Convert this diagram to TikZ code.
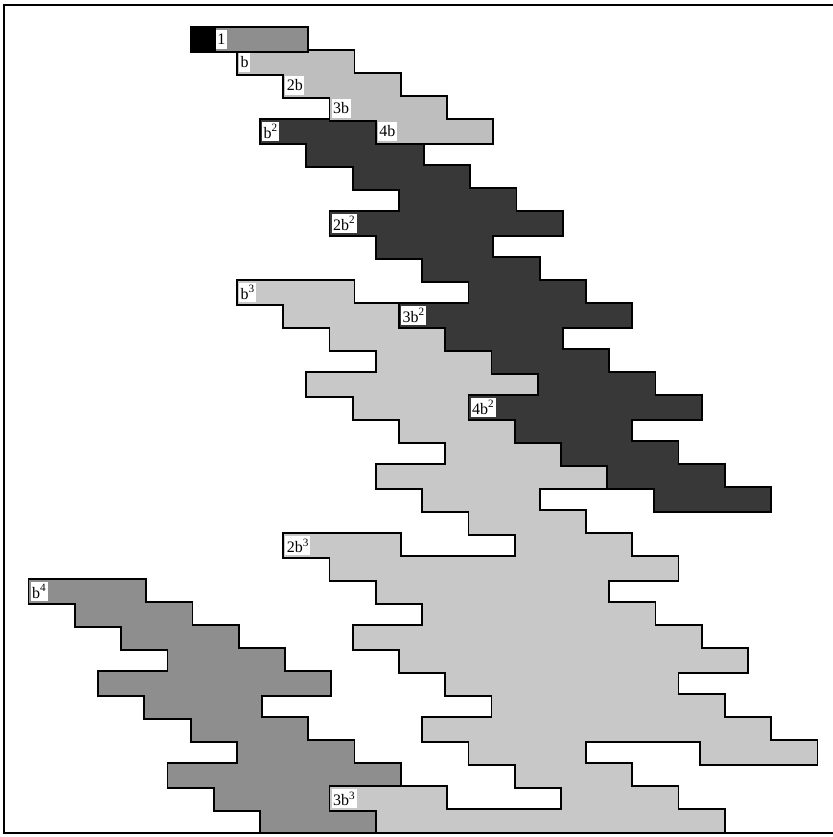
\documentclass[tikz,border=0pt]{standalone}
\usepackage{fontspec}
\setmainfont{Liberation Serif}
\definecolor{cdark}{HTML}{383838}
\definecolor{clight}{HTML}{C8C8C8}
\definecolor{clightb}{HTML}{BEBEBE}
\definecolor{cmed}{HTML}{8E8E8E}
\def\gx{191.5}
\def\gw{23.15}
\def\gy{28}
\def\gh{23}
\newcommand\cellat[3]{\path[#1] ({\gx+\gw*(#2)},{\gy+\gh*(#3)}) rectangle ++(\gw,\gh);}
\newcommand\levZero[1]{\foreach \ia in {1,...,4}{\cellat{#1}{\ia}{0}}}
\newcommand\levOne[1]{\foreach \ia in {1,...,4}{\foreach \ib in {0,...,4}{\cellat{#1}{2*\ia+\ib}{\ia}}}}
\newcommand\levTwo[1]{\foreach \ia in {1,...,4}{\foreach \ib in {0,...,4}{\foreach \ic in {0,...,4}{\cellat{#1}{3*\ia+2*\ib+\ic}{4*\ia+\ib}}}}}
\newcommand\levThree[1]{\foreach \ie in {1,...,3}{\foreach \ia in {0,...,4}{\foreach \ib in {0,...,4}{\foreach \ic in {0,...,4}{\cellat{#1}{2*\ie+3*\ia+2*\ib+\ic}{11*\ie+4*\ia+\ib}}}}}}
\newcommand\levFour[1]{\foreach \ia in {0,...,4}{\foreach \ib in {0,...,4}{\foreach \ic in {0,...,4}{\cellat{#1}{-7+3*\ia+2*\ib+\ic}{24+4*\ia+\ib}}}}}
\begin{document}
\begin{tikzpicture}[x=1pt,y=-1pt,
  lbl/.style={fill=white, inner xsep=1.5pt, inner ysep=0pt, minimum height=19pt, anchor=west, font=\fontsize{16}{16}\selectfont},
  edge/.style={draw=black, line width=3.6pt},
  fmed/.style={fill=cmed},
  flight/.style={fill=clight},
  flightb/.style={fill=clightb},
  fdark/.style={fill=cdark},
  fblack/.style={fill=black}]
\useasboundingbox (0,0) rectangle (832,837);
\begin{scope}
\clip (4,5) rectangle (832,833);
\levFour{edge}
\levFour{fmed}
\levThree{edge}
\levThree{flight}
\levTwo{edge}
\levTwo{fdark}
\levOne{edge}
\levOne{flightb}
\levZero{edge}
\levZero{fmed}
\cellat{edge}{0}{0}
\cellat{fblack}{0}{0}
\end{scope}
% labels
\node[lbl] (l1) at ({\gx+\gw*1+1},{\gy+\gh*0.5}) {1};
\node[lbl] (lb) at ({\gx+\gw*2+1},{\gy+\gh*1.5}) {b};
\node[lbl] (l2b) at ({\gx+\gw*4+1},{\gy+\gh*2.5}) {2b};
\node[lbl] (l3b) at ({\gx+\gw*6+1},{\gy+\gh*3.5}) {3b};
\node[lbl] (l4b) at ({\gx+\gw*8+1},{\gy+\gh*4.5}) {4b};
\node[lbl] (lbb) at ({\gx+\gw*3+1},{\gy+\gh*4.5}) {b\textsuperscript{2}};
\node[lbl] (l2bb) at ({\gx+\gw*6+1},{\gy+\gh*8.5}) {2b\textsuperscript{2}};
\node[lbl] (l3bb) at ({\gx+\gw*9+1},{\gy+\gh*12.5}) {3b\textsuperscript{2}};
\node[lbl] (l4bb) at ({\gx+\gw*12+1},{\gy+\gh*16.5}) {4b\textsuperscript{2}};
\node[lbl] (lbbb) at ({\gx+\gw*2+1},{\gy+\gh*11.5}) {b\textsuperscript{3}};
\node[lbl] (l2bbb) at ({\gx+\gw*4+1},{\gy+\gh*22.5}) {2b\textsuperscript{3}};
\node[lbl] (l3bbb) at ({\gx+\gw*6+1},{\gy+\gh*33.5}) {3b\textsuperscript{3}};
\node[lbl] (lbbbb) at ({\gx+\gw*(-7)+1},{\gy+\gh*24.5}) {b\textsuperscript{4}};
% frame
\draw[line width=2pt] (834,5) -- (4,5) -- (4,833) -- (834,833);
\end{tikzpicture}
\end{document}
